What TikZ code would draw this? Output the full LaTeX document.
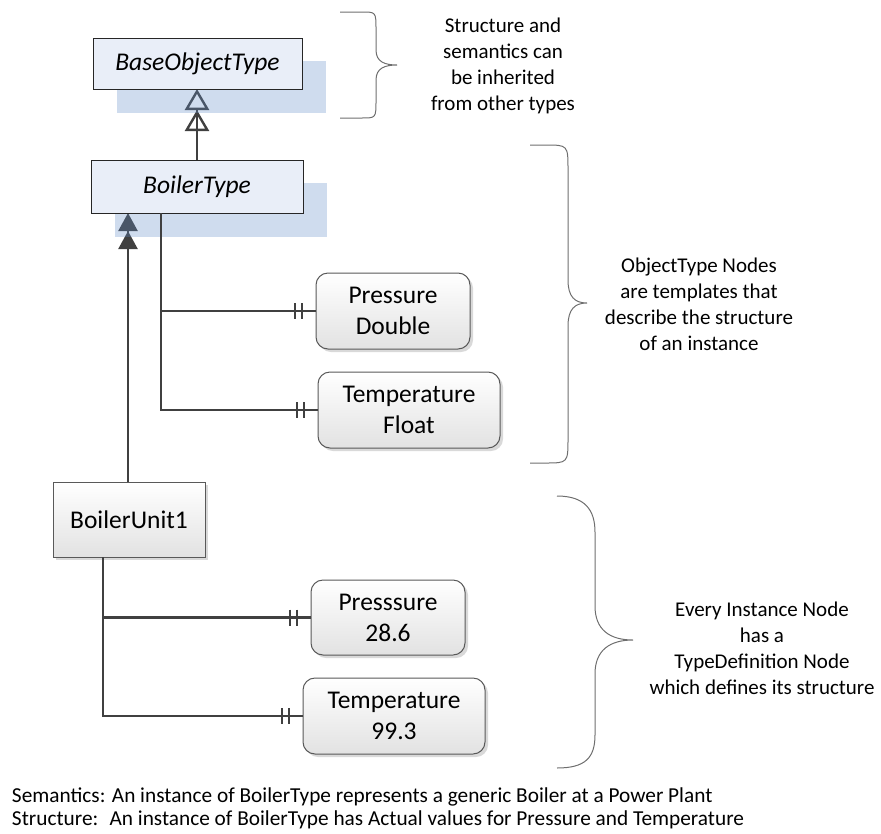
\documentclass[tikz,border=0pt]{standalone}
\usepackage{fontspec}
\setmainfont{Carlito}
\usetikzlibrary{arrows.meta,shadows}
\pgfdeclarelayer{conn}
\pgfdeclarelayer{shad}
\pgfsetlayers{conn,shad,main}
\definecolor{linecol}{HTML}{404040}
\definecolor{typefill}{HTML}{E9EEF8}
\definecolor{typeshadow}{RGB}{95,138,198}
\definecolor{typeline}{HTML}{262626}
\definecolor{instline}{HTML}{595959}
\definecolor{gradbot}{HTML}{E2E2E2}
\definecolor{bracecol}{HTML}{6E6E6E}
\tikzset{
  every node/.style={inner sep=0pt, outer sep=0pt},
  typebox/.style={draw=typeline, fill=typefill, line width=1pt,
    font=\fontsize{25.5}{30}\selectfont\itshape},
  instbox/.style={draw=instline, line width=1pt, top color=white, bottom color=gradbot,
    drop shadow={shadow xshift=3pt, shadow yshift=-3pt, fill=black, opacity=0.15},
    font=\fontsize{25.5}{31}\selectfont, align=center},
  varbox/.style={instbox, rounded corners=12pt},
  tshadow/.style={fill=typeshadow, opacity=0.3},
  comp/.style={draw=linecol, line width=2.4pt},
  tick/.style={draw=linecol, line width=2.2pt},
  inhopen/.style={draw=linecol, line width=2.4pt,
    -{Triangle[open, length=21pt, width=24pt] Triangle[open, length=21pt, width=24pt]}},
  inhfill/.style={draw=linecol, line width=2.4pt,
    -{Triangle[length=18pt, width=19pt] Triangle[length=18pt, width=19pt]}},
  bracepath/.style={draw=bracecol, line width=1pt},
  note/.style={align=center, font=\fontsize{21}{26}\selectfont},
  bottomtext/.style={align=left, font=\fontsize{21.3}{22.5}\selectfont},
}
\begin{document}
\begin{tikzpicture}[x=1pt, y=-1pt]
\useasboundingbox (0,0) rectangle (881,833);

% type nodes
\node[typebox, minimum width=209pt, minimum height=51pt] (base) at (197.5,63.5) {BaseObjectType};
\node[typebox, minimum width=212pt, minimum height=53pt] (boiler) at (197,186.5) {BoilerType};

% variable nodes of the type
\node[varbox, minimum width=154pt, minimum height=76pt] (press) at (393,311) {Pressure\\Double};
\node[varbox, minimum width=182pt, minimum height=76pt] (temp) at (409,410) {Temperature\\Float};

% instance
\node[instbox, minimum width=152pt, minimum height=75pt] (unit) at (129,519.5) {BoilerUnit1};
\node[varbox, minimum width=154pt, minimum height=75pt] (press2) at (388,617.5) {Presssure\\28.6};
\node[varbox, minimum width=182pt, minimum height=76pt] (temp2) at (394,716) {Temperature\\99.3};

% shadows of the type nodes
\begin{pgfonlayer}{shad}
  \fill[tshadow] (117,61) rectangle (326,113);
  \fill[tshadow] (115,183) rectangle (327,237);
\end{pgfonlayer}

% inheritance connectors
\coordinate (ix) at (197,0);
\coordinate (fx) at (128,0);
\begin{pgfonlayer}{conn}
  \draw[inhopen] (boiler.north -| ix) -- (base.south -| ix);
  \draw[inhfill] (unit.north -| fx) -- (boiler.south -| fx);
\end{pgfonlayer}

% composition connectors
\coordinate (cx) at (161,0);
\coordinate (ux) at (103,0);
\draw[comp] (boiler.south -| cx) |- (press.west);
\draw[comp] (boiler.south -| cx) |- (temp.west);
\draw[comp] (unit.south -| ux) |- (press2.west);
\draw[comp] (unit.south -| ux) |- (temp2.west);
\foreach \n in {press,temp,press2,temp2}{
  \draw[tick] ([xshift=-21pt]\n.west) ++(0,-8) -- ++(0,16);
  \draw[tick] ([xshift=-14pt]\n.west) ++(0,-8) -- ++(0,16);
}

% braces
\draw[bracepath] (340,12) -- (362,12) .. controls (376,12) .. (376,30) -- (376,50)
  .. controls (376,62) and (385,65) .. (397,65)
  .. controls (385,65) and (376,68) .. (376,80) -- (376,100)
  .. controls (376,118) .. (362,118) -- (340,118);
\draw[bracepath] (530,145) -- (545,145) .. controls (568,145) .. (568,170) -- (568,280)
  .. controls (568,297) and (575,303) .. (587,303)
  .. controls (575,303) and (568,309) .. (568,326) -- (568,438)
  .. controls (568,463) .. (545,463) -- (530,463);
\draw[bracepath] (557,496) .. controls (585,496) and (595,510) .. (595,532) -- (595,606)
  .. controls (595,630) and (610,640) .. (633,640)
  .. controls (610,640) and (595,650) .. (595,674) -- (595,735)
  .. controls (595,758) and (585,768) .. (557,768);

% annotations
\node[note] (n1) at (503,66) {Structure and\\semantics can\\be inherited\\from other types};
\node[note] (n2) at (699,304) {ObjectType Nodes\\are templates that\\describe the structure\\of an instance};
\node[note] (n3) at (762,648) {Every Instance Node\\has a\\TypeDefinition Node\\which defines its structure};

\node[bottomtext, anchor=north west] (cap) at (12,788) {Semantics: An instance of BoilerType represents a generic Boiler at a Power Plant\\Structure: \ An instance of BoilerType has Actual values for Pressure and Temperature};
\end{tikzpicture}
\end{document}
